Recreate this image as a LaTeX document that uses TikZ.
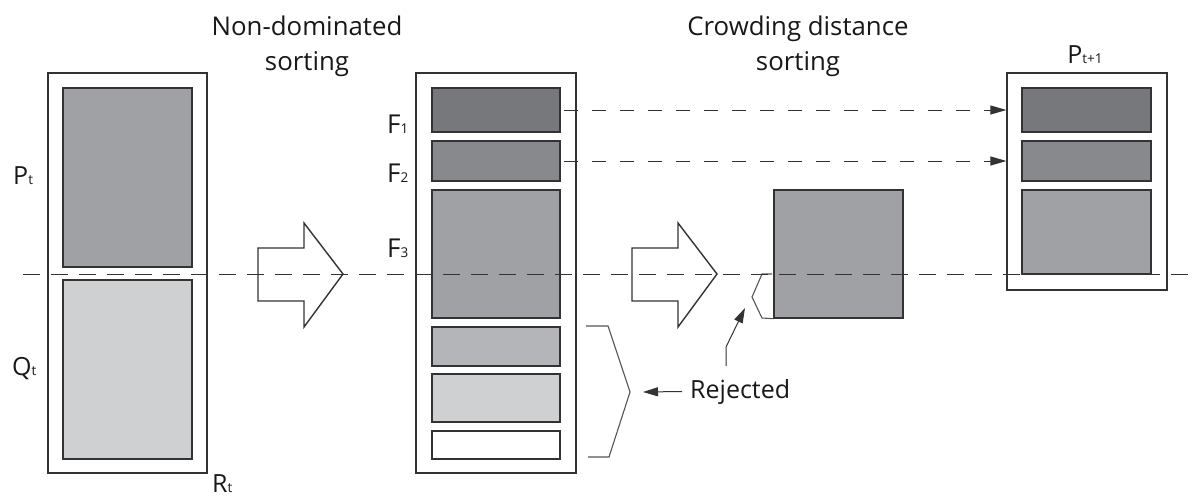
\documentclass[tikz,border=0pt]{standalone}
\usepackage{fontspec}
\setmainfont{Open Sans}
\usetikzlibrary{arrows.meta}

\definecolor{edge}{HTML}{333333}
\definecolor{ink}{HTML}{1A1718}
\definecolor{bracketgray}{HTML}{555555}
\definecolor{frontA}{HTML}{77787B}
\definecolor{frontB}{HTML}{88898C}
\definecolor{frontC}{HTML}{A0A1A4}
\definecolor{frontD}{HTML}{B4B5B8}
\definecolor{frontE}{HTML}{CFD0D2}

% small index set on the baseline, as in P_t or F_1
\newcommand\popidx[1]{{\fontsize{13.5}{14}\selectfont #1}}

\begin{document}
\begin{tikzpicture}[x=1pt,y=-1pt,
  wh/.style 2 args={minimum width=#1,minimum height=#2},
  outerbox/.style={draw=edge,line width=1.2pt,fill=white,inner sep=0pt},
  front/.style={draw=edge,line width=1.4pt,inner sep=0pt},
  label/.style={inner sep=0pt,anchor=base west,text=ink,font=\fontsize{25}{26}\selectfont},
  flabel/.style={inner sep=0pt,anchor=base west,text=ink,font=\fontsize{26}{27}\selectfont},
  heading/.style={inner sep=0pt,anchor=base,align=center,text=ink,font=\fontsize{25.8}{35}\selectfont},
  blockarrow/.style={draw=edge,line width=1.4pt,line join=miter},
  divider/.style={draw=edge,line width=1pt,dash pattern=on 17pt off 11pt},
  carry/.style={draw=edge,line width=1pt,dash pattern=on 14pt off 14pt,
    -{Triangle[length=16pt,width=9pt]}},
  pointer/.style={draw=edge,line width=1pt,-{Triangle[length=15pt,width=9pt]}},
  bracket/.style={draw=bracketgray,line width=1.1pt,line join=miter}]

\useasboundingbox (0,0) rectangle (1198,498);
\clip (0,0) rectangle (1198,498);

% combined population R_t = P_t + Q_t
\node[outerbox,wh={159pt}{400pt}] (R) at (127.5,273) {};
\node[front,fill=frontC,wh={129pt}{179pt}] (P) at (127.5,177.5) {};
\node[front,fill=frontE,wh={129pt}{179pt}] (Q) at (127.5,369.5) {};
\node[label] (Plab) at (13,184) {P\popidx{t}};
\node[label] (Qlab) at (12,375) {Q\popidx{t}};
\node[label] (Rlab) at (212,492) {R\popidx{t}};

% fronts after non-dominated sorting
\node[outerbox,wh={160pt}{400pt}] (M) at (496,273) {};
\node[front,fill=frontA,wh={128pt}{44pt}] (F1) at (496,110) {};
\node[front,fill=frontB,wh={128pt}{40pt}] (F2) at (496,161) {};
\node[front,fill=frontC,wh={128pt}{128pt}] (F3) at (496,254) {};
\node[front,fill=frontD,wh={128pt}{39pt}] (F4) at (496,346.5) {};
\node[front,fill=frontE,wh={128pt}{48pt}] (F5) at (496,398) {};
\node[front,fill=white,wh={128pt}{28pt}] (F6) at (496,445) {};
\node[flabel] (F1lab) at (387,133) {F\popidx{1}};
\node[flabel] (F2lab) at (387,182) {F\popidx{2}};
\node[flabel] (F3lab) at (387,257) {F\popidx{3}};

% front F_3 taken out for crowding distance sorting
\node[front,fill=frontC,wh={129pt}{128pt}] (S) at (838.5,254) {};

% next population P_{t+1}
\node[outerbox,wh={160pt}{217pt}] (N) at (1087,181.5) {};
\node[front,fill=frontA,wh={129pt}{44pt}] (G1) at (1086.5,110) {};
\node[front,fill=frontB,wh={129pt}{40pt}] (G2) at (1086.5,161) {};
\node[front,fill=frontC,wh={129pt}{84pt}] (G3) at (1086.5,232) {};
\node[label,anchor=base] (Nlab) at (1085,63) {P\popidx{t+1}};

% headings
\node[heading] (h1) at (307,70) {Non-dominated\\sorting};
\node[heading] (h2) at (798,70) {Crowding distance\\sorting};

% block arrows
\draw[blockarrow] (258,248) -- (304,248) -- (304,223) -- (343,274)
  -- (304,327) -- (304,301) -- (258,301) -- cycle;
\draw[blockarrow] (632,248) -- (678,248) -- (678,223) -- (717,274)
  -- (678,327) -- (678,301) -- (632,301) -- cycle;

% fronts copied straight into P_{t+1}
\draw[carry,shorten <=3pt] (F1.east) -- (F1.east -| N.west);
\draw[carry,shorten <=3pt] (F2.east) -- (F2.east -| N.west);

% rejected members
\coordinate (bt) at (630,392);
\draw[bracket] (586,326) -- (608,326) -- (bt) -- (609,457) -- (588,457);
\coordinate (st) at (752,297);
\draw[bracket] (772,274) -- (762,274) -- (st) -- (762,318) -- (S.south west);
\node[label] (rej) at (690,398) {Rejected};
\draw[pointer] ([xshift=-8pt]rej.west) -- ([xshift=13pt]bt);
\coordinate (ub) at (726,366);
\coordinate (ut) at (745,308);
\draw[pointer] (ub) -- (726,347) -- (ut);

% population size cut
\coordinate (dl) at (23,274);
\coordinate (dr) at (1198,274);
\draw[divider] (dl) -- (dr);
\end{tikzpicture}
\end{document}
